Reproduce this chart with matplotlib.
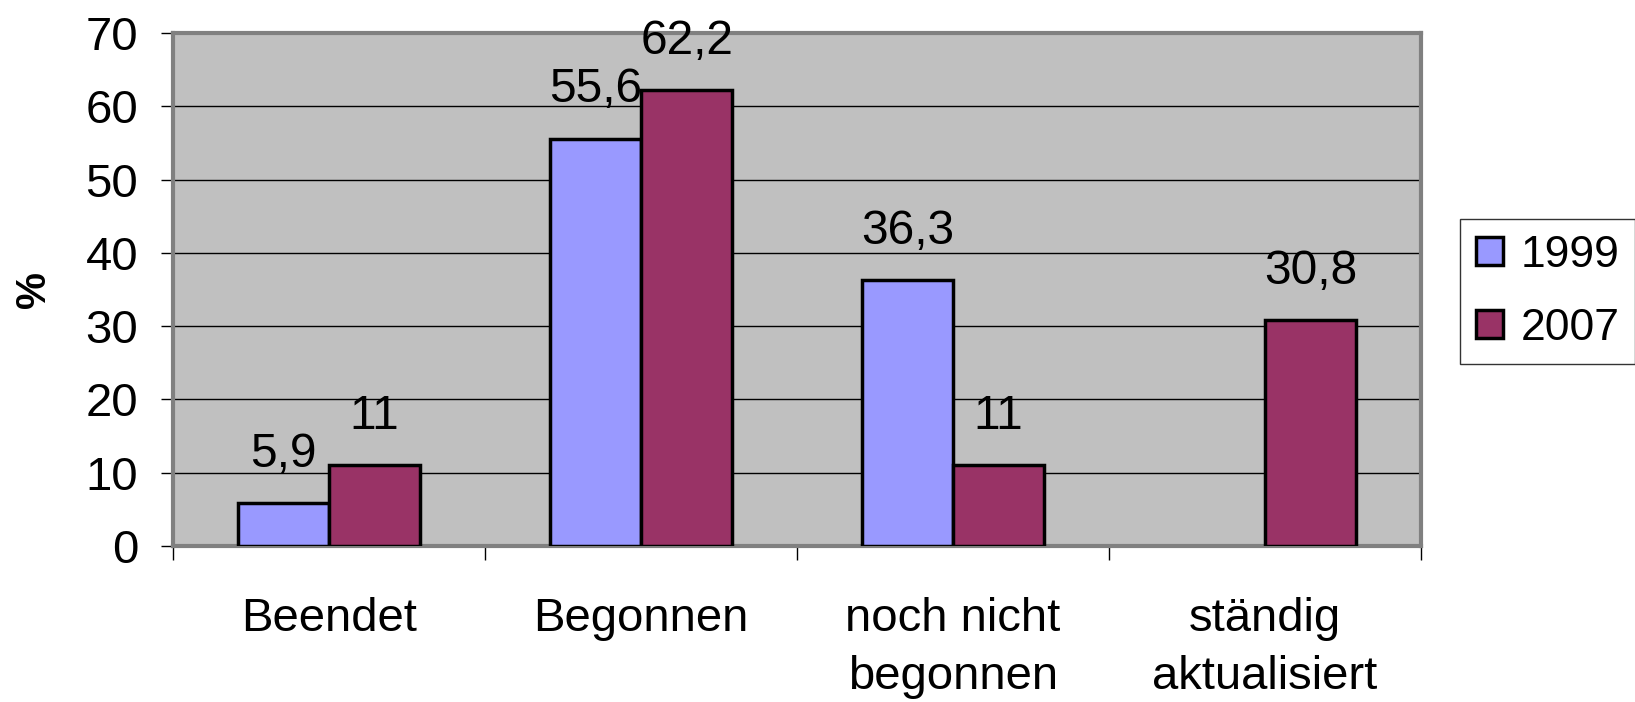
import numpy as np
import matplotlib
matplotlib.use("Agg")
import matplotlib.pyplot as plt
from matplotlib.patches import Patch

#------------Data----------------------#
categories = ["Beendet", "Begonnen", "noch nicht\nbegonnen", "ständig\naktualisiert"]
series_names = ["1999", "2007"]
values_1999 = [5.9, 55.6, 36.3, np.nan]
values_2007 = [11, 62.2, 11, 30.8]
yticks = [0, 10, 20, 30, 40, 50, 60, 70]

#------------Style---------------------#
plt.rcParams['font.family'] = ['Liberation Sans', 'DejaVu Sans']
col_1999 = "#9999FF"
col_2007 = "#993366"
bg = "#C0C0C0"
frame = "#808080"

fig = plt.figure(figsize=(16.35, 7.02), dpi=100)
ax = fig.add_axes([173/1635, 1-546/702, (1421-173)/1635, (546-33)/702])
ax.set_facecolor(bg)

x = np.arange(len(categories))
w = 0.293

b1 = ax.bar(x - w/2, values_1999, w, color=col_1999, edgecolor="black", linewidth=2.5, zorder=3)
b2 = ax.bar(x + w/2, values_2007, w, color=col_2007, edgecolor="black", linewidth=2.5, zorder=3)

def fmt(v):
    if v == int(v):
        return str(int(v))
    return ("%.1f" % v).replace(".", ",")

#----------------Data labels-----------------#
for bars, vals in [(b1, values_1999), (b2, values_2007)]:
    for rect, v in zip(bars, vals):
        if np.isnan(v):
            continue
        ax.annotate(fmt(v), (rect.get_x() + rect.get_width()/2, v),
                    xytext=(0, 26), textcoords="offset points",
                    ha="center", va="baseline", fontsize=34.5, zorder=4)

#----------------Axes-----------------#
ax.set_xlim(-0.5, len(categories) - 0.5)
ax.set_ylim(0, 70)
ax.set_yticks(yticks)
ax.tick_params(axis="y", labelsize=34, length=9, width=1, color="black", pad=16)
ax.yaxis.grid(True, color="black", linewidth=1, zorder=1)
ax.set_axisbelow(True)

ax.set_xticks(x)
ax.set_xticklabels(categories, fontsize=34, linespacing=1.4)
ax.tick_params(axis="x", length=0, pad=37)
ax.set_xticks(np.arange(-0.5, len(categories)), minor=True)
ax.tick_params(axis="x", which="minor", length=10, width=1, color="black")

for s in ax.spines.values():
    s.set_color(frame)
    s.set_linewidth(3)

ax.set_ylabel("%", fontsize=30, fontweight="bold")
ax.yaxis.set_label_coords(-0.095, 0.5)

#----------------Legend-----------------#
handles = [Patch(facecolor=col_1999, edgecolor="black", linewidth=2.5),
           Patch(facecolor=col_2007, edgecolor="black", linewidth=2.5)]
leg = fig.legend(handles, series_names, loc="upper left",
                 bbox_to_anchor=(1460/1635, 1-219/702), borderaxespad=0,
                 fontsize=32, frameon=True, fancybox=False,
                 handlelength=0.62, handleheight=0.62, handletextpad=0.4,
                 labelspacing=0.72, borderpad=0.35)
leg.get_frame().set_edgecolor("black")
leg.get_frame().set_linewidth(1)

fig.savefig("out.png", dpi=100)
